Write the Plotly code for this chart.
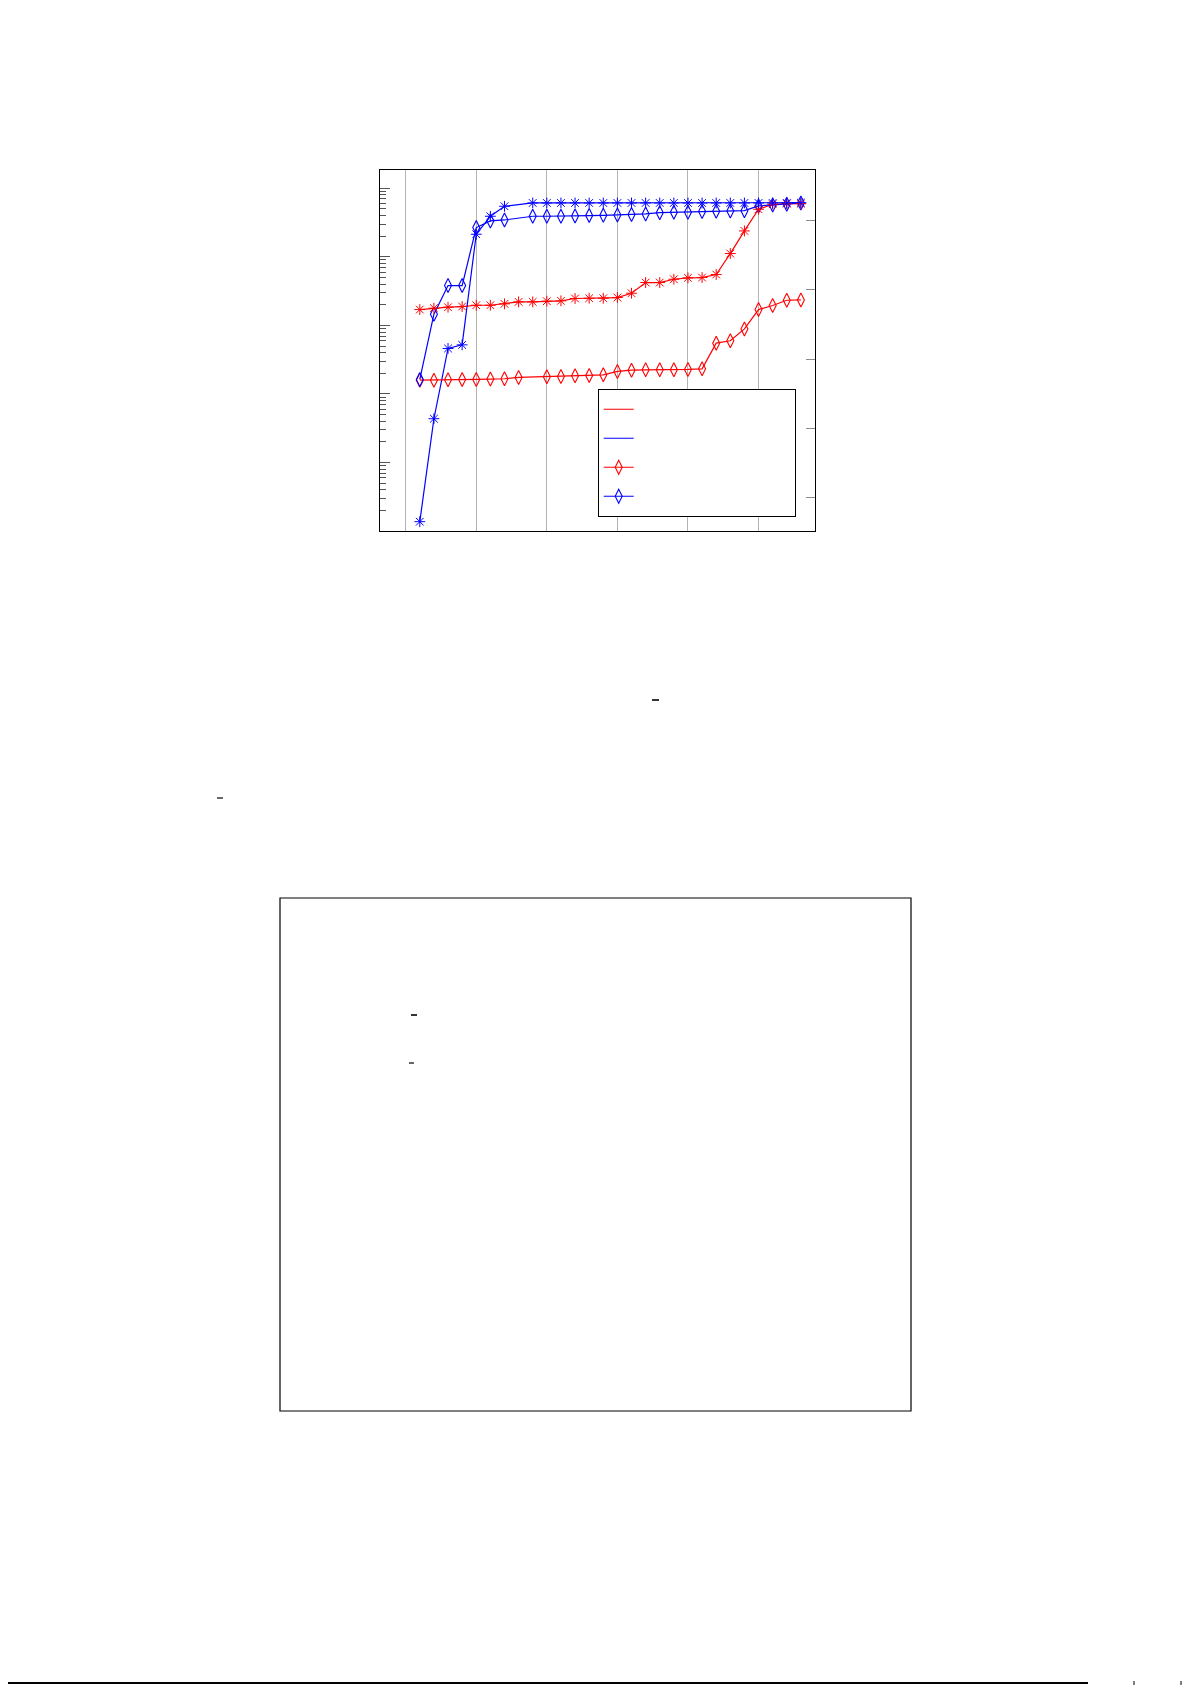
import plotly.graph_objects as go

# x positions of the samples (grid every 5)
x_all = list(range(1, 29))
x_no8 = [i for i in x_all if i != 8]
x_no9 = [i for i in x_all if i != 9]

# values (log10 units, bottom of axis = 0)
red_star = [3.231, 3.251, 3.265, 3.275, 3.294, 3.294, 3.314, 3.343, 3.343, 3.353,
            3.358, 3.392, 3.396, 3.396, 3.406, 3.469, 3.625, 3.625, 3.673, 3.693,
            3.698, 3.742, 4.048, 4.378, 4.694, 4.767, 4.776, 4.776]
blue_star = [0.136, 1.638, 2.663, 2.716, 4.330, 4.592, 4.738, 4.786, 4.786,
             4.786, 4.786, 4.786, 4.786, 4.786, 4.786, 4.786, 4.786, 4.786, 4.786,
             4.786, 4.786, 4.786, 4.786, 4.786, 4.786, 4.786, 4.790]
red_diamond = [2.201, 2.201, 2.206, 2.211, 2.211, 2.216, 2.221, 2.240, 2.250,
               2.255, 2.264, 2.269, 2.279, 2.328, 2.347, 2.352, 2.352, 2.352, 2.357,
               2.366, 2.741, 2.775, 2.949, 3.231, 3.290, 3.367, 3.372]
blue_diamond = [2.211, 3.163, 3.581, 3.581, 4.427, 4.524, 4.538, 4.592, 4.592,
                4.592, 4.597, 4.602, 4.606, 4.611, 4.616, 4.626, 4.645, 4.650, 4.650,
                4.660, 4.665, 4.670, 4.674, 4.743, 4.757, 4.767, 4.786]

grid_x = [0, 5, 10, 15, 20, 25]
right_ticks = [0, 1, 2, 3, 4]

def tolin(vals):
    return [10 ** v for v in vals]

RED = "#ff0000"
BLUE = "#0000ff"
blank = "\u00a0" * 27

fig = go.Figure()

# star series: line in legend, stars drawn separately (legend shows plain lines)
fig.add_trace(go.Scatter(x=x_all, y=tolin(red_star), mode="lines", name=blank,
                         line=dict(color=RED, width=1.2)))
fig.add_trace(go.Scatter(x=x_no8, y=tolin(blue_star), mode="lines", name=blank,
                         line=dict(color=BLUE, width=1.2)))
fig.add_trace(go.Scatter(x=x_no9, y=tolin(red_diamond), mode="lines+markers", name=blank,
                         line=dict(color=RED, width=1.2),
                         marker=dict(symbol="diamond-tall-open", size=10, color=RED,
                                     line=dict(width=1.1, color=RED))))
fig.add_trace(go.Scatter(x=x_no8, y=tolin(blue_diamond), mode="lines+markers", name=blank,
                         line=dict(color=BLUE, width=1.2),
                         marker=dict(symbol="diamond-tall-open", size=10, color=BLUE,
                                     line=dict(width=1.1, color=BLUE))))
fig.add_trace(go.Scatter(x=x_all, y=tolin(red_star), mode="markers", showlegend=False,
                         marker=dict(symbol="asterisk-open", size=9, color=RED,
                                     line=dict(width=1, color=RED))))
fig.add_trace(go.Scatter(x=x_no8, y=tolin(blue_star), mode="markers", showlegend=False,
                         marker=dict(symbol="asterisk-open", size=9, color=BLUE,
                                     line=dict(width=1, color=BLUE))))
# empty trace so the right hand axis gets drawn
fig.add_trace(go.Scatter(x=[], y=[], yaxis="y2", showlegend=False, hoverinfo="skip"))

# page body has an 8px margin, so the figure starts at (8, 8)
# plot area on the page: x 380..815, y 170..531
fig.update_layout(
    width=1184, height=1677,
    margin=dict(l=372, r=377, t=162, b=1154),
    paper_bgcolor="white", plot_bgcolor="white",
    font=dict(family="Liberation Sans, Arial", size=20, color="black"),
    showlegend=True,
    legend=dict(x=0.5005, y=0.394, xanchor="left", yanchor="top",
                bgcolor="white", bordercolor="black", borderwidth=1,
                font=dict(size=20), tracegroupgap=0),
    xaxis=dict(range=[-1.82, 29.0], showticklabels=False, ticks="",
               tickvals=grid_x, showgrid=True, gridcolor="#b4b4b4", gridwidth=1,
               zeroline=False, showline=True, linecolor="black", linewidth=1.2,
               mirror=True),
    yaxis=dict(type="log", range=[0, 5.267], showticklabels=False,
               ticks="inside", ticklen=10, tickcolor="#555555", tickwidth=1,
               dtick=1, showgrid=False, zeroline=False,
               minor=dict(ticks="inside", ticklen=6, tickcolor="#555555",
                          dtick="D1", showgrid=False),
               showline=True, linecolor="black", linewidth=1.2, mirror=True),
    yaxis2=dict(overlaying="y", side="right", range=[-0.487, 4.733],
                tickvals=right_ticks, showticklabels=False, ticks="inside",
                ticklen=9, tickcolor="#8c8c8c", tickwidth=1,
                showgrid=False, zeroline=False, showline=False),
)

def px(xp):
    return (xp - 380) / 435.0

def py(yp):
    return (531 - yp) / 361.0

shapes = []
# empty frame lower on the page
shapes.append(dict(type="rect", xref="paper", yref="paper",
                   x0=px(280), x1=px(911), y0=py(1411), y1=py(898),
                   line=dict(color="black", width=1.2), fillcolor="rgba(0,0,0,0)"))
# little rules left over from the page text
for (a, b, c, w) in [(652, 659, 700, 1.6), (217, 223, 798, 1.2),
                     (411, 417, 1015, 1.6), (409, 414, 1063, 1.2)]:
    shapes.append(dict(type="line", xref="paper", yref="paper",
                       x0=px(a), x1=px(b), y0=py(c), y1=py(c),
                       line=dict(color="black", width=w)))
# rule at the foot of the page, plus two tiny marks at the right
shapes.append(dict(type="line", xref="paper", yref="paper",
                   x0=px(8), x1=px(1088), y0=py(1683), y1=py(1683),
                   line=dict(color="black", width=2)))
for xm in [1134, 1181]:
    shapes.append(dict(type="line", xref="paper", yref="paper",
                       x0=px(xm), x1=px(xm), y0=py(1685), y1=py(1681),
                       line=dict(color="black", width=1)))
fig.update_layout(shapes=shapes)

fig.write_html("out.html")
